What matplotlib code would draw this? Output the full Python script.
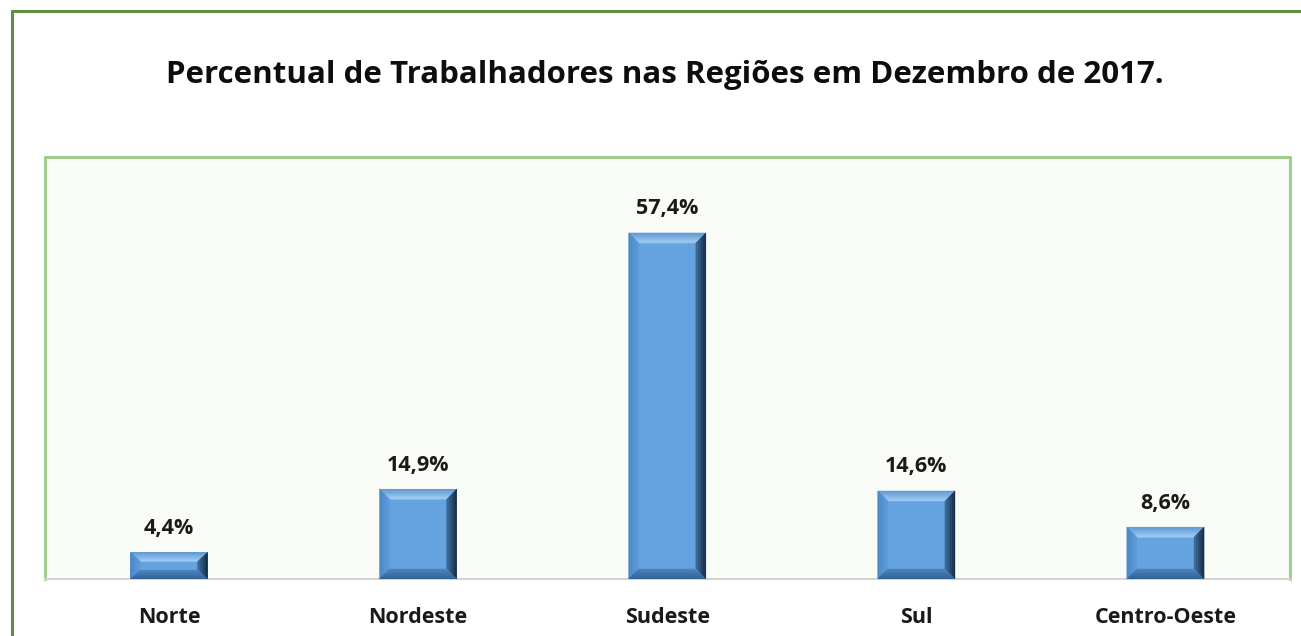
import matplotlib.pyplot as plt
import numpy as np
from matplotlib.patches import Polygon
from matplotlib.lines import Line2D
from matplotlib.colors import to_rgb

plt.rcParams['font.family'] = ['Open Sans', 'DejaVu Sans']

regioes = ['Norte', 'Nordeste', 'Sudeste', 'Sul', 'Centro-Oeste']
percentual = [4.4, 14.9, 57.4, 14.6, 8.6]
rotulos = ['4,4%', '14,9%', '57,4%', '14,6%', '8,6%']

fig = plt.figure(figsize=(13.01, 6.36), dpi=100)
fig.patch.set_facecolor('white')

# moldura externa (so esquerda e topo aparecem)
xl, yt = 12 / 1301, 1 - 11 / 636
fig.add_artist(Line2D([xl, xl, 1.05], [-0.05, yt, yt], transform=fig.transFigure,
                      color='#5E8E3E', linewidth=2.2, solid_joinstyle='miter'))

ax = fig.add_axes([44.5 / 1301, 57 / 636, (1290 - 44.5) / 1301, (579 - 157) / 636])
ax.set_facecolor('#F9FBF6')
x = range(len(regioes))
bars = ax.bar(x, percentual, width=0.31, color='#64A3E0', zorder=2)
ax.set_xlim(-0.5, len(regioes) - 0.5)
ax.set_ylim(0, 70)

for s in ['left', 'top', 'right']:
    ax.spines[s].set_color('#9CCB86')
    ax.spines[s].set_linewidth(2)
ax.spines['bottom'].set_color('#D4D4D4')
ax.spines['bottom'].set_linewidth(1.5)
ax.set_yticks([])
ax.set_xticks(list(x))
ax.set_xticklabels(regioes, fontsize=15.5, fontweight='bold', color='#1a1a1a')
ax.tick_params(axis='x', length=0, pad=20)


def mix(c1, c2, t):
    a, b = np.array(to_rgb(c1)), np.array(to_rgb(c2))
    return tuple(a + (b - a) * t)


# efeito chanfrado das barras
bev = 10
n = 6
fig.canvas.draw()
bbox = ax.get_window_extent()
dx = bev / bbox.width * (ax.get_xlim()[1] - ax.get_xlim()[0])
dy = bev / bbox.height * (ax.get_ylim()[1] - ax.get_ylim()[0])
for b in bars:
    x0, y0 = b.get_x(), b.get_y()
    x1, y1 = x0 + b.get_width(), y0 + b.get_height()
    ex, ey = dx, min(dy, (y1 - y0) / 3)
    # (lado, cor externa, cor interna)
    lados = [('top', '#5F97CF', '#A2CFF7'), ('left', '#4A86C4', '#5E9CDA'),
             ('right', '#10253A', '#3F6D9C'), ('bottom', '#2F5E8F', '#4B84BF')]
    for lado, c_out, c_in in lados:
        for k in range(n):
            t0, t1 = k / n, (k + 1) / n
            if lado == 'top':
                pts = [(x0 + ex * t0, y1 - ey * t0), (x1 - ex * t0, y1 - ey * t0),
                       (x1 - ex * t1, y1 - ey * t1), (x0 + ex * t1, y1 - ey * t1)]
            elif lado == 'bottom':
                pts = [(x0 + ex * t0, y0 + ey * t0), (x1 - ex * t0, y0 + ey * t0),
                       (x1 - ex * t1, y0 + ey * t1), (x0 + ex * t1, y0 + ey * t1)]
            elif lado == 'left':
                pts = [(x0 + ex * t0, y0 + ey * t0), (x0 + ex * t0, y1 - ey * t0),
                       (x0 + ex * t1, y1 - ey * t1), (x0 + ex * t1, y0 + ey * t1)]
            else:
                pts = [(x1 - ex * t0, y0 + ey * t0), (x1 - ex * t0, y1 - ey * t0),
                       (x1 - ex * t1, y1 - ey * t1), (x1 - ex * t1, y0 + ey * t1)]
            c = mix(c_out, c_in, (t0 + t1) / 2)
            ax.add_patch(Polygon(pts, closed=True, facecolor=c, edgecolor=c,
                                 linewidth=0.3, zorder=3))

for xi, v, r in zip(x, percentual, rotulos):
    ax.annotate(r, (xi, v), xytext=(0, 24), textcoords='offset pixels',
                ha='center', va='center', fontsize=15.5, fontweight='bold', color='#1a1a1a')

fig.text(665 / 1301, 1 - 75 / 636, 'Percentual de Trabalhadores nas Regiões em Dezembro de 2017.',
         ha='center', va='center', fontsize=22.5, fontweight='bold', color='#0d0d0d')

fig.savefig('out.png', dpi=100)
